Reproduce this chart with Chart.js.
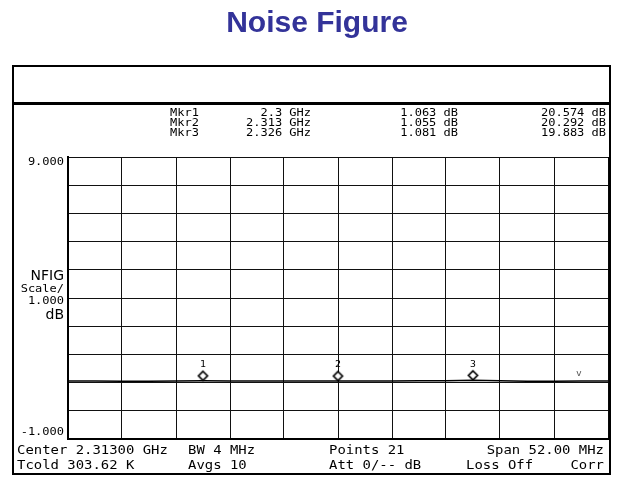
<!DOCTYPE html>
<html>
<head>
<meta charset="utf-8">
<script src="https://cdn.jsdelivr.net/npm/chart.js@4/dist/chart.umd.min.js"></script>
<style>
  html, body { margin: 0; padding: 0; background: #ffffff; }
  #wrap { width: 617px; height: 477px; }
</style>
</head>
<body>
<div id="wrap"><canvas id="c" width="617" height="477"></canvas></div>
<script>
// ---- data ----
const chartTitle = 'Noise Figure';
const freqGHz = [2.2870, 2.2896, 2.2922, 2.2948, 2.2974, 2.3000, 2.3026, 2.3052, 2.3078, 2.3104, 2.3130,
                 2.3156, 2.3182, 2.3208, 2.3234, 2.3260, 2.3286, 2.3312, 2.3338, 2.3364, 2.3390];
const noiseFigureDb = [1.06, 1.06, 1.05, 1.05, 1.06, 1.063, 1.06, 1.06, 1.06, 1.06, 1.055,
                       1.06, 1.06, 1.07, 1.07, 1.081, 1.07, 1.05, 1.05, 1.06, 1.06];
const markerNames = ['1', '2', '3'];
const markerFreqGHz = [2.300, 2.313, 2.326];
const markerNfDb = [1.063, 1.055, 1.081];
const markerGainDb = [20.574, 20.292, 19.883];
const markerFreqLabels = ['2.3 GHz', '2.313 GHz', '2.326 GHz'];
const gridFreqTicks = [2.2870, 2.2922, 2.2974, 2.3026, 2.3078, 2.3130, 2.3182, 2.3234, 2.3286, 2.3338, 2.3390];
const yTopLabel = '9.000';
const yBottomLabel = '-1.000';
const yMin = -1, yMax = 9;
const xMin = 2.287, xMax = 2.339;
const scaleLabels = ['NFIG', 'Scale/', '1.000', 'dB'];
const footerRow1 = ['Center 2.31300 GHz', 'BW 4 MHz', 'Points 21', 'Span 52.00 MHz'];
const footerRow2 = ['Tcold 303.62 K', 'Avgs 10', 'Att 0/-- dB', 'Loss Off', 'Corr'];
const ghostMarker = { f: 2.3362, v: 1.30, glyph: 'v' };

// ---- custom diamond marker image (drawn above its point) ----
function diamondImage() {
  const cv = document.createElement('canvas');
  cv.width = 13; cv.height = 23;
  const g = cv.getContext('2d');
  g.fillStyle = '#ffffff';
  g.strokeStyle = '#000000';
  g.lineWidth = 1.7;
  g.beginPath();
  g.moveTo(6.5, 2); g.lineTo(11, 6.5); g.lineTo(6.5, 11); g.lineTo(2, 6.5); g.closePath();
  g.fill(); g.stroke();
  return cv;
}

const MONO = '"DejaVu Sans Mono", "Liberation Mono", monospace';
const SANS = '"DejaVu Sans", "Liberation Sans", sans-serif';

// text drawn with a horizontal stretch to mimic the instrument's wide bitmap font
function wideText(ctx, text, x, y, align, font, sx) {
  ctx.save();
  ctx.font = font;
  ctx.textAlign = align;
  ctx.textBaseline = 'middle';
  ctx.translate(x, y);
  ctx.scale(sx, 1);
  ctx.fillText(text, 0, 0);
  ctx.restore();
}

const framePlugin = {
  id: 'instrumentFrame',
  afterDraw(chart) {
    const ctx = chart.ctx;
    const ca = chart.chartArea;
    const xs = chart.scales.x, ys = chart.scales.y;
    ctx.save();
    // title
    ctx.fillStyle = '#333399';
    ctx.font = 'bold 30px "Liberation Sans", Arial, sans-serif';
    ctx.textAlign = 'center';
    ctx.textBaseline = 'alphabetic';
    ctx.fillText(chartTitle, 317, 32);

    // outer frame
    ctx.strokeStyle = '#000';
    ctx.lineWidth = 2;
    ctx.strokeRect(13, 66, 597, 408);
    ctx.lineWidth = 3;
    ctx.beginPath(); ctx.moveTo(13, 103.5); ctx.lineTo(610, 103.5); ctx.stroke();
    ctx.lineWidth = 2;
    ctx.beginPath(); ctx.moveTo(609.5, ca.top); ctx.lineTo(609.5, ca.bottom); ctx.stroke();

    ctx.fillStyle = '#000';
    const small = '10px ' + MONO;
    const sxs = 1.2;
    // marker table
    for (let i = 0; i < markerNames.length; i++) {
      const y = 113 + i * 10;
      wideText(ctx, 'Mkr' + markerNames[i], 170, y, 'left', small, sxs);
      wideText(ctx, markerFreqLabels[i], 311, y, 'right', small, sxs);
      wideText(ctx, markerNfDb[i].toFixed(3) + ' dB', 458, y, 'right', small, sxs);
      wideText(ctx, markerGainDb[i].toFixed(3) + ' dB', 606, y, 'right', small, sxs);
    }

    // y labels
    wideText(ctx, yTopLabel, 64, 162, 'right', small, sxs);
    wideText(ctx, yBottomLabel, 64, 432, 'right', small, sxs);
    wideText(ctx, scaleLabels[0], 64, 276, 'right', '14px ' + SANS, 1);
    wideText(ctx, scaleLabels[1], 64, 289.5, 'right', small, sxs);
    wideText(ctx, scaleLabels[2], 64, 301, 'right', small, sxs);
    wideText(ctx, scaleLabels[3], 64, 315, 'right', '14px ' + SANS, 1);

    // footer
    const ff = '12px ' + MONO;
    const sxf = 1.16;
    wideText(ctx, footerRow1[0], 17, 451, 'left', ff, sxf);
    wideText(ctx, footerRow1[1], 188, 451, 'left', ff, sxf);
    wideText(ctx, footerRow1[2], 329, 451, 'left', ff, sxf);
    wideText(ctx, footerRow1[3], 604, 451, 'right', ff, sxf);
    wideText(ctx, footerRow2[0], 17, 466, 'left', ff, sxf);
    wideText(ctx, footerRow2[1], 188, 466, 'left', ff, sxf);
    wideText(ctx, footerRow2[2], 329, 466, 'left', ff, sxf);
    wideText(ctx, footerRow2[3], 466, 466, 'left', ff, sxf);
    wideText(ctx, footerRow2[4], 604, 466, 'right', ff, sxf);

    // marker numbers
    for (let i = 0; i < markerNames.length; i++) {
      const px = xs.getPixelForValue(markerFreqGHz[i]);
      const py = ys.getPixelForValue(markerNfDb[i]);
      wideText(ctx, markerNames[i], px, py - 16, 'center', '9px ' + MONO, 1.1);
    }
    // ghost marker glyph
    ctx.fillStyle = '#555';
    wideText(ctx, ghostMarker.glyph, xs.getPixelForValue(ghostMarker.f), ys.getPixelForValue(ghostMarker.v), 'center', '8px ' + MONO, 1.2);
    ctx.restore();
  }
};

new Chart(document.getElementById('c'), {
  type: 'line',
  data: {
    datasets: [
      {
        label: 'NFIG',
        data: freqGHz.map((f, i) => ({ x: f, y: noiseFigureDb[i] })),
        borderColor: '#000',
        borderWidth: 1.5,
        pointRadius: 0,
        tension: 0,
        fill: false
      },
      {
        label: 'markers',
        data: markerFreqGHz.map((f, i) => ({ x: f, y: markerNfDb[i] })),
        showLine: false,
        pointStyle: diamondImage(),
        pointRadius: 6
      }
    ]
  },
  options: {
    responsive: false,
    animation: false,
    devicePixelRatio: 1,
    layout: { padding: { left: 68, right: 9, top: 157, bottom: 38 } },
    plugins: { legend: { display: false }, tooltip: { enabled: false }, title: { display: false } },
    scales: {
      x: {
        type: 'linear', min: xMin, max: xMax,
        afterBuildTicks: (axis) => { axis.ticks = gridFreqTicks.map(v => ({ value: v })); },
        ticks: { display: false },
        grid: { color: '#111', lineWidth: 1, drawTicks: false },
        border: { display: true, color: '#000', width: 2 }
      },
      y: {
        type: 'linear', min: yMin, max: yMax,
        ticks: { display: false, stepSize: 1 },
        grid: { color: '#111', lineWidth: 1, drawTicks: false },
        border: { display: true, color: '#000', width: 2 }
      }
    }
  },
  plugins: [framePlugin]
});
</script>
</body>
</html>
